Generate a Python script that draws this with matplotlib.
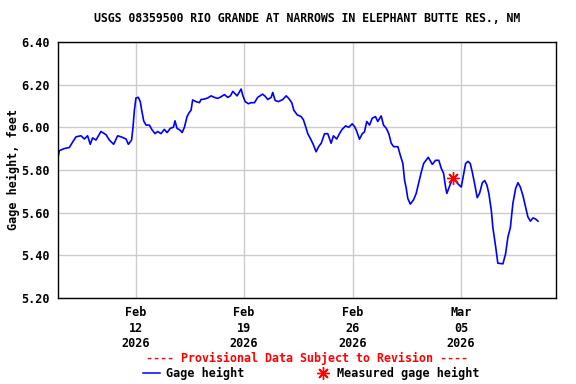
import pandas as pd
import matplotlib
matplotlib.use("Agg")
import matplotlib.pyplot as plt

# gage height readings: days since 2026-02-07 00:00, feet
days = [0.00, 0.07, 0.39, 0.72, 0.93, 1.15, 1.47, 1.69, 1.90, 2.07, 2.22, 2.44,
        2.76, 3.09, 3.30, 3.58, 3.84, 4.06, 4.38, 4.53, 4.74, 4.83, 4.92, 5.02,
        5.17, 5.30, 5.39, 5.52, 5.67, 5.89, 6.04, 6.25, 6.42, 6.64, 6.85, 7.03,
        7.24, 7.44, 7.54, 7.67, 7.89, 8.00, 8.15, 8.32, 8.47, 8.58, 8.68, 8.90,
        9.12, 9.22, 9.44, 9.65, 9.87, 10.08, 10.30, 10.52, 10.73, 10.94, 11.12,
        11.27, 11.55, 11.81, 11.91, 12.07, 12.28, 12.45, 12.67, 12.88, 13.20,
        13.36, 13.53, 13.75, 13.85, 14.01, 14.22, 14.50, 14.72, 14.88, 15.08,
        15.21, 15.43, 15.68, 15.83, 16.01, 16.11, 16.33, 16.48, 16.65, 16.82,
        16.98, 17.19, 17.40, 17.62, 17.77, 17.98, 18.16, 18.33, 18.55, 18.76,
        18.98, 19.13, 19.24, 19.45, 19.63, 19.77, 19.92, 20.10, 20.27, 20.48,
        20.63, 20.85, 21.00, 21.18, 21.34, 21.50, 21.65, 21.93, 22.08, 22.25,
        22.36, 22.47, 22.57, 22.73, 22.94, 23.11, 23.26, 23.44, 23.59, 23.76,
        23.89, 24.15, 24.36, 24.57, 24.73, 24.88, 25.01, 25.09, 25.27, 25.44,
        25.65, 25.80, 26.02, 26.12, 26.30, 26.45, 26.60, 26.73, 26.88, 27.05,
        27.20, 27.38, 27.53, 27.67, 27.80, 27.96, 28.06, 28.24, 28.38, 28.71,
        28.88, 29.03, 29.19, 29.35, 29.53, 29.68, 29.83, 30.00, 30.17, 30.32,
        30.48, 30.65, 30.82, 30.97]
gage = [5.86, 5.89, 5.90, 5.905, 5.93, 5.955, 5.96, 5.945, 5.96, 5.92, 5.95, 5.94,
        5.98, 5.965, 5.94, 5.92, 5.96, 5.955, 5.945, 5.92, 5.94, 6.00, 6.08, 6.137,
        6.14, 6.12, 6.08, 6.03, 6.01, 6.01, 5.99, 5.97, 5.98, 5.97, 5.99, 5.975,
        5.995, 6.00, 6.03, 5.995, 5.985, 5.975, 6.00, 6.05, 6.07, 6.08, 6.128, 6.12,
        6.115, 6.13, 6.132, 6.137, 6.147, 6.14, 6.135, 6.143, 6.153, 6.14, 6.147,
        6.168, 6.147, 6.179, 6.15, 6.12, 6.11, 6.115, 6.115, 6.14, 6.155,
        6.145, 6.13, 6.14, 6.163, 6.125, 6.12, 6.13, 6.147, 6.135, 6.115,
        6.08, 6.058, 6.05, 6.035, 5.995, 5.97, 5.94, 5.917, 5.885, 5.91,
        5.925, 5.969, 5.97, 5.925, 5.96, 5.945, 5.97, 5.99, 6.006, 6.00,
        6.016, 6.003, 5.987, 5.944, 5.97, 5.978, 6.027, 6.01, 6.042, 6.05,
        6.027, 6.053, 6.01, 5.995, 5.97, 5.925, 5.909, 5.909, 5.87, 5.83,
        5.752, 5.713, 5.666, 5.64, 5.66, 5.69, 5.736, 5.79, 5.83, 5.846,
        5.859, 5.826, 5.845, 5.845, 5.807, 5.784, 5.718, 5.69, 5.725, 5.755,
        5.748, 5.735, 5.72, 5.76, 5.83, 5.84, 5.83, 5.79, 5.736, 5.67,
        5.69, 5.74, 5.75, 5.73, 5.69, 5.61, 5.53, 5.44, 5.363, 5.36,
        5.407, 5.485, 5.53, 5.642, 5.713, 5.74, 5.72, 5.68, 5.627, 5.58,
        5.56, 5.575, 5.57, 5.56]

measured_day = [25.48]
measured_gage = [5.76]

tick_dates = ["2026-02-12", "2026-02-19", "2026-02-26", "2026-03-05"]
tick_labels = ["Feb\n12\n2026", "Feb\n19\n2026", "Feb\n26\n2026", "Mar\n05\n2026"]
y_ticks = [5.20, 5.40, 5.60, 5.80, 6.00, 6.20, 6.40]

start = pd.Timestamp("2026-02-07")
t = start + pd.to_timedelta(days, unit="D")
tm = start + pd.to_timedelta(measured_day, unit="D")

plt.rcParams['font.family'] = ['DejaVu Sans Mono']
plt.rcParams['font.weight'] = 'bold'

fig = plt.figure(figsize=(5.76, 3.84), dpi=100)
ax = fig.add_axes([0.101, 0.224, 0.864, 0.667])

ax.plot(t, gage, color='#0000ff', linewidth=1.2)
ax.plot(tm, measured_gage, linestyle='none', marker=(8, 2, 0),
        markersize=9, markeredgecolor='red', markeredgewidth=1.0, color='red')

ax.set_xlim(start, pd.Timestamp("2026-03-11 03:00"))
ax.set_ylim(5.20, 6.40)
ax.set_yticks(y_ticks)
ax.set_yticklabels([f"{v:.2f}" for v in y_ticks], fontsize=8.5, fontweight='bold')
ax.set_xticks(pd.to_datetime(tick_dates))
ax.set_xticklabels(tick_labels, fontsize=8.5, fontweight='bold', linespacing=1.25)
ax.tick_params(length=0, pad=6)
ax.grid(True, color='#cccccc', linewidth=1.0)
ax.set_axisbelow(True)
for s in ax.spines.values():
    s.set_linewidth(1.0)
    s.set_color('black')

ax.set_ylabel('Gage height, feet', fontsize=8.5, fontweight='bold')
ax.yaxis.set_label_coords(-0.076, 0.5)

fig.text(0.533, 0.951, 'USGS 08359500 RIO GRANDE AT NARROWS IN ELEPHANT BUTTE RES., NM',
         ha='center', va='center', fontsize=8.3, fontweight='bold')
fig.text(0.533, 0.066, '---- Provisional Data Subject to Revision ----',
         ha='center', va='center', fontsize=8.4, fontweight='bold', color='red')

# legend row
fig.lines.append(plt.Line2D([143 / 576, 160 / 576], [1 - 373 / 384] * 2,
                            color='#0000ff', linewidth=1.1, transform=fig.transFigure))
fig.text(166 / 576, 1 - 373 / 384, 'Gage height', ha='left', va='center',
         fontsize=8.5, fontweight='bold')
fig.lines.append(plt.Line2D([323 / 576], [1 - 373 / 384], linestyle='none',
                            marker=(8, 2, 0), markersize=9, markeredgecolor='red',
                            markeredgewidth=1.0, transform=fig.transFigure))
fig.text(337 / 576, 1 - 373 / 384, 'Measured gage height', ha='left', va='center',
         fontsize=8.5, fontweight='bold')

fig.savefig('out.png', dpi=100)
